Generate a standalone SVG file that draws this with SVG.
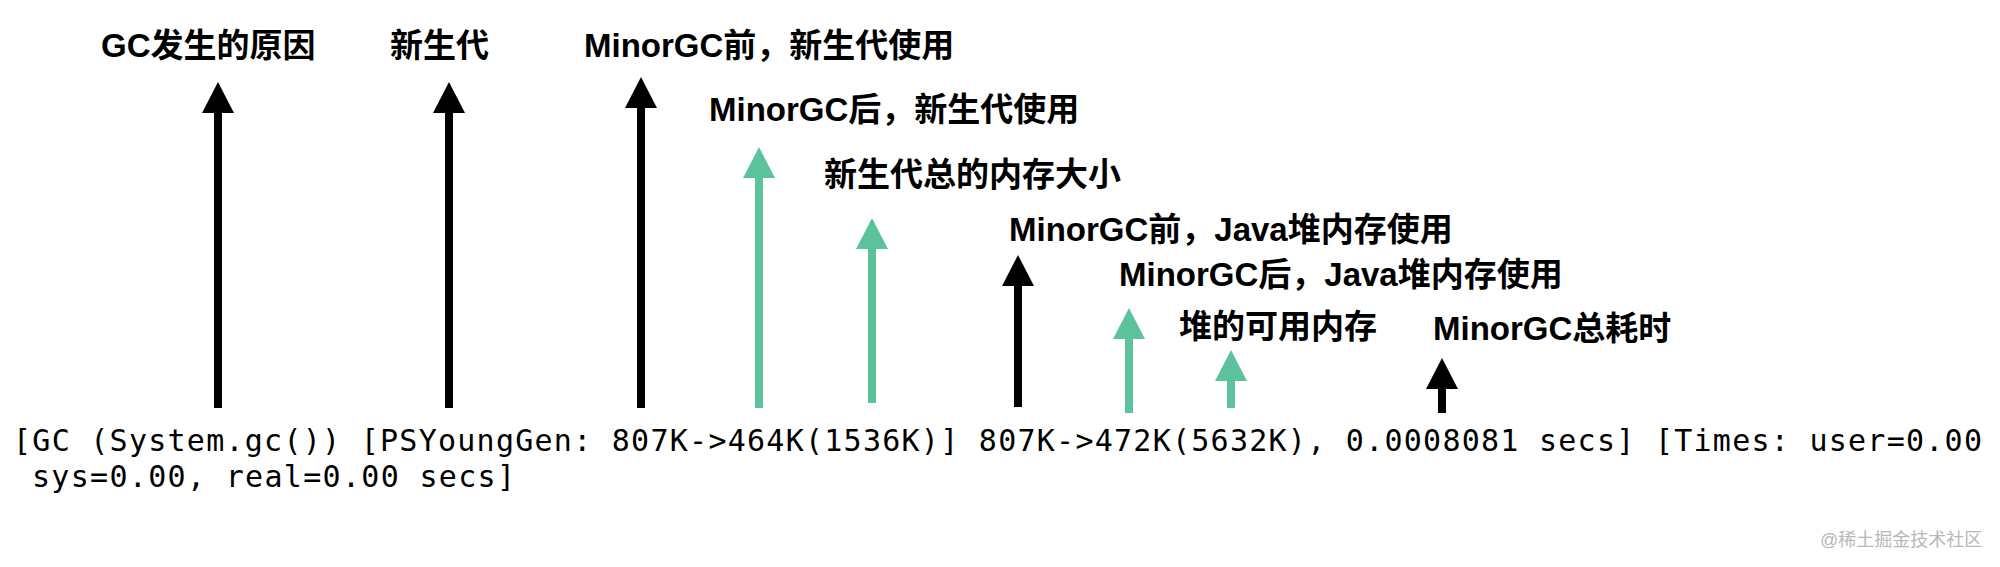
<svg xmlns="http://www.w3.org/2000/svg" width="2000" height="567" viewBox="0 0 2000 567">
<style>
.lbl{font-family:"Liberation Sans","Noto Sans CJK SC",sans-serif;font-weight:bold;font-size:33px;fill:#000}
.code{font-family:"DejaVu Sans Mono","Liberation Mono",monospace;font-size:30px;fill:#000}
.wm{font-family:"Liberation Sans","Noto Sans CJK SC",sans-serif;font-size:18px;fill:#b8b8b8}
.blk{stroke:#000;stroke-width:8;fill:none;marker-end:url(#hb)}
.grn{stroke:#5cc29b;stroke-width:8;fill:none;marker-end:url(#hg)}
</style>
<defs>
<marker id="hb" viewBox="0 -16 31 32" markerWidth="31" markerHeight="32" refX="7" refY="0" orient="auto" markerUnits="userSpaceOnUse"><path d="M0,-16 L31,0 L0,16 Z" fill="#000"/></marker>
<marker id="hg" viewBox="0 -16 31 32" markerWidth="31" markerHeight="32" refX="7" refY="0" orient="auto" markerUnits="userSpaceOnUse"><path d="M0,-16 L31,0 L0,16 Z" fill="#5cc29b"/></marker>
</defs>
<rect width="2000" height="567" fill="#fff"/>
<g id="connectors">
<line class="blk" x1="218" y1="408" x2="218" y2="106"/>
<line class="blk" x1="449" y1="408" x2="449" y2="106"/>
<line class="blk" x1="641" y1="408" x2="641" y2="101"/>
<line class="grn" x1="759" y1="408" x2="759" y2="171"/>
<line class="grn" x1="872" y1="403" x2="872" y2="242"/>
<line class="blk" x1="1018" y1="407" x2="1018" y2="279"/>
<line class="grn" x1="1129" y1="413" x2="1129" y2="332"/>
<line class="grn" x1="1231" y1="408" x2="1231" y2="374"/>
<line class="blk" x1="1442" y1="413" x2="1442" y2="382"/>
</g>
<g id="n1"><text class="lbl" x="101" y="57">GC发生的原因</text></g>
<g id="n2"><text class="lbl" x="390" y="57">新生代</text></g>
<g id="n3"><text class="lbl" x="584" y="57">MinorGC前，新生代使用</text></g>
<g id="n4"><text class="lbl" x="709" y="121">MinorGC后，新生代使用</text></g>
<g id="n5"><text class="lbl" x="824" y="186">新生代总的内存大小</text></g>
<g id="n6"><text class="lbl" x="1009" y="241">MinorGC前，Java堆内存使用</text></g>
<g id="n7"><text class="lbl" x="1119" y="286">MinorGC后，Java堆内存使用</text></g>
<g id="n8"><text class="lbl" x="1179" y="338">堆的可用内存</text></g>
<g id="n9"><text class="lbl" x="1433" y="340">MinorGC总耗时</text></g>
<g id="log">
<text class="code" x="13" y="451" textLength="1969" lengthAdjust="spacing">[GC (System.gc()) [PSYoungGen: 807K-&gt;464K(1536K)] 807K-&gt;472K(5632K), 0.0008081 secs] [Times: user=0.00</text>
<text class="code" x="32" y="487" textLength="483" lengthAdjust="spacing">sys=0.00, real=0.00 secs]</text>
</g>
<text class="wm" x="1820" y="546">@稀土掘金技术社区</text>
</svg>
